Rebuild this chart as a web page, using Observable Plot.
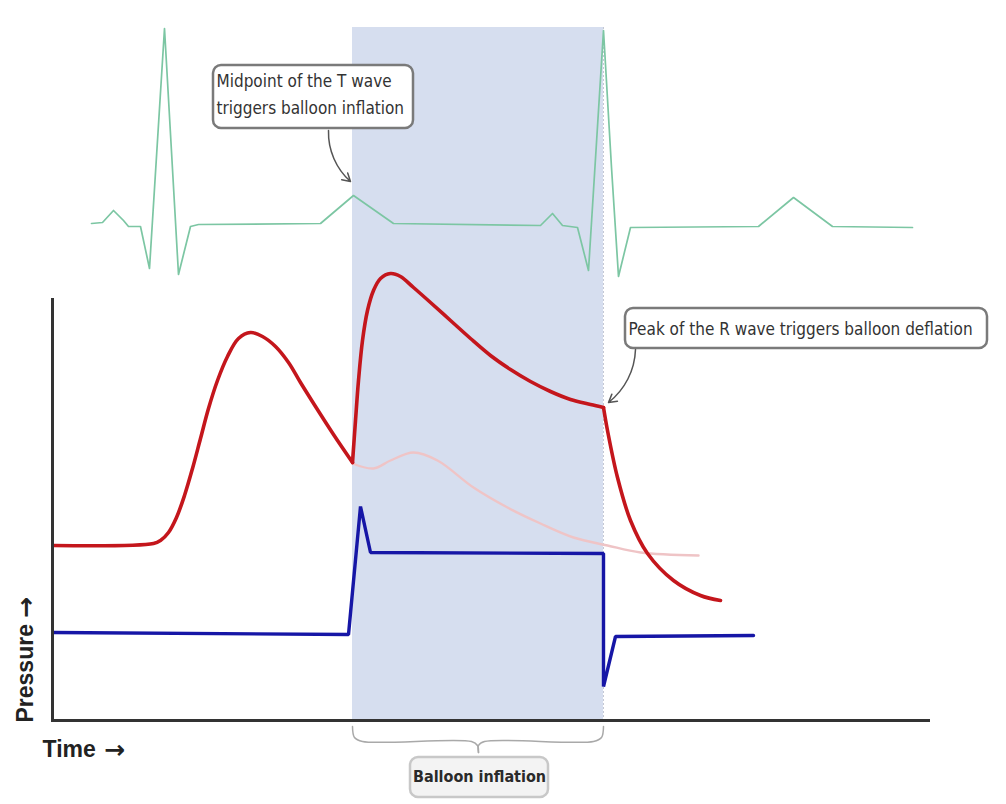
<!DOCTYPE html>
<html>
<head>
<meta charset="utf-8">
<script src="https://cdn.jsdelivr.net/npm/d3@7"></script>
<script src="https://cdn.jsdelivr.net/npm/@observablehq/plot@0.6"></script>
<style>
  html, body { margin: 0; padding: 0; background: #fff; }
  #chart svg { display: block; }
</style>
</head>
<body>
<div id="chart"></div>
<script>
// Coordinates (time → x, pressure → y, y grows downward)
const ecgT = [91,102,113,123,128,140,149,164,178,190,198,320,353,393,540,552,562,577,588,603,611,618,630,758,793,832,912];
const ecgV = [223,222,210,220,226,226,268,28,274,226,224,223,195,223,225,213,225,227,270,30,167,276,227,226,197,226,227];

const systoleT = [53,153,160,168,176,184,192,200,208,217,227,238,250,262,275,288,300,315,333,352];
const systoleV = [545,543,540,532,517,495,468,438,408,380,356,338,332,336,346,362,382,406,434,462];

const augmentT = [352,355,358,362,367,373,380,390,400,413,430,450,470,490,510,530,550,570,590,603];
const augmentV = [462,420,380,340,310,290,278,273,276,287,302,320,338,355,369,381,391,399,404,407];

const deflateT = [603,607,617,630,647,673,700,720];
const deflateV = [407,430,477,520,553,580,595,600];

const unassistedT = [352,373,390,413,437,473,507,540,573,607,640,698];
const unassistedV = [463,468,460,452,460,487,507,523,537,545,552,555];

const balloonT = [53,348,360,370,603,603,615,753];
const balloonV = [632,634,506,552,553,686,636,635];

const inflation = {start: 352, end: 603, top: 27, bottom: 720};

const noteTLines = ["Midpoint of the T wave", "triggers balloon inflation"];
const noteRText = "Peak of the R wave triggers balloon deflation";
const bracketLabel = "Balloon inflation";
const yLabel = "Pressure";
const xLabel = "Time";
const arrowGlyph = "\u2192";

const pts = (T, V, extra = {}) => T.map((t, i) => ({t, v: V[i], ...extra}));

const ecg = pts(ecgT, ecgV);
const red = [
  ...pts(systoleT, systoleV, {seg: "a"}),
  ...pts(augmentT, augmentV, {seg: "b"}),
  ...pts(deflateT, deflateV, {seg: "c"})
];
const pink = pts(unassistedT, unassistedV);
const blue = pts(balloonT, balloonV);

const bracket = [
  ...pts([352,354,362,471,477,478],[726,737,741,741,745,752], {side: "l"}),
  ...pts([603,601,593,484,478,478],[726,737,741,741,745,752], {side: "r"})
];

const boxes = [
  {x1: 213, x2: 413, y1: 65, y2: 128, fill: "#ffffff", stroke: "#7a7a7a"},
  {x1: 625, x2: 987, y1: 308, y2: 348, fill: "#ffffff", stroke: "#7a7a7a"},
  {x1: 410, x2: 548, y1: 757, y2: 797, fill: "#f3f3f3", stroke: "#c8c8c8"}
];

const narrow = "'Liberation Sans Narrow', 'DejaVu Sans Condensed', 'Arial Narrow', sans-serif";
const boldFont = "'Liberation Sans', Arial, sans-serif";
const arrowFont = "'DejaVu Sans', sans-serif";

const chart = Plot.plot({
  width: 1006,
  height: 804,
  margin: 0,
  x: {domain: [0, 1006], range: [0, 1006], axis: null},
  y: {domain: [0, 804], range: [0, 804], axis: null},
  marks: [
    Plot.rect([inflation], {x1: "start", x2: "end", y1: "top", y2: "bottom", fill: "#d6deef"}),
    Plot.ruleX([inflation], {x: "end", y1: "top", y2: "bottom", stroke: "#c4c8d4", strokeWidth: 1, strokeDasharray: "2,2"}),
    Plot.line(ecg, {x: "t", y: "v", stroke: "#7cc6a3", strokeWidth: 1.7, curve: "linear"}),
    Plot.line(pink, {x: "t", y: "v", stroke: "#efc4c6", strokeWidth: 2.4, curve: "catmull-rom"}),
    Plot.line(red, {x: "t", y: "v", z: "seg", stroke: "#c4161c", strokeWidth: 3.6, curve: "catmull-rom"}),
    Plot.line(blue, {x: "t", y: "v", stroke: "#1616a6", strokeWidth: 3.4, curve: "linear", strokeLinejoin: "miter"}),
    Plot.ruleX([52], {x: d => d, y1: 298, y2: 722, stroke: "#333333", strokeWidth: 3}),
    Plot.ruleY([720], {y: d => d, x1: 51, x2: 930, stroke: "#333333", strokeWidth: 3}),
    Plot.line(bracket, {x: "t", y: "v", z: "side", stroke: "#a9a9a9", strokeWidth: 1.5, curve: "catmull-rom"}),
    Plot.rect(boxes, {x1: "x1", x2: "x2", y1: "y1", y2: "y2", fill: "fill", stroke: "stroke", strokeWidth: 2.5, rx: 8}),
    Plot.arrow([{x1: 328, y1: 130, x2: 350, y2: 181}], {x1: "x1", y1: "y1", x2: "x2", y2: "y2", bend: -25, stroke: "#555555", strokeWidth: 1.5, headLength: 9}),
    Plot.arrow([{x1: 635, y1: 349, x2: 608, y2: 402}], {x1: "x1", y1: "y1", x2: "x2", y2: "y2", bend: 25, stroke: "#555555", strokeWidth: 1.5, headLength: 9}),
    Plot.text(noteTLines.map((s, i) => ({s, i})), {x: 216, y: d => 81 + d.i * 27, text: "s", textAnchor: "start", fontSize: 17, fill: "#333333", fontFamily: narrow}),
    Plot.text([noteRText], {x: 628, y: 329, text: d => d, textAnchor: "start", fontSize: 17, fill: "#333333", fontFamily: narrow}),
    Plot.text([bracketLabel], {x: 479, y: 776, text: d => d, textAnchor: "middle", fontSize: 16, fill: "#2a2a2a", fontFamily: narrow, fontWeight: 600}),
    Plot.text([yLabel], {x: 25, y: 722, text: d => d, rotate: -90, textAnchor: "start", fontSize: 23, fontWeight: "bold", fill: "#222222", fontFamily: boldFont}),
    Plot.text([arrowGlyph], {x: 25, y: 607, text: d => d, rotate: -90, fontSize: 25, fontWeight: "bold", fill: "#222222", fontFamily: arrowFont}),
    Plot.text([xLabel], {x: 42, y: 749, text: d => d, textAnchor: "start", fontSize: 23, fontWeight: "bold", fill: "#222222", fontFamily: boldFont}),
    Plot.text([arrowGlyph], {x: 114, y: 749, text: d => d, fontSize: 25, fontWeight: "bold", fill: "#222222", fontFamily: arrowFont})
  ]
});

document.getElementById("chart").appendChild(chart);
</script>
</body>
</html>
